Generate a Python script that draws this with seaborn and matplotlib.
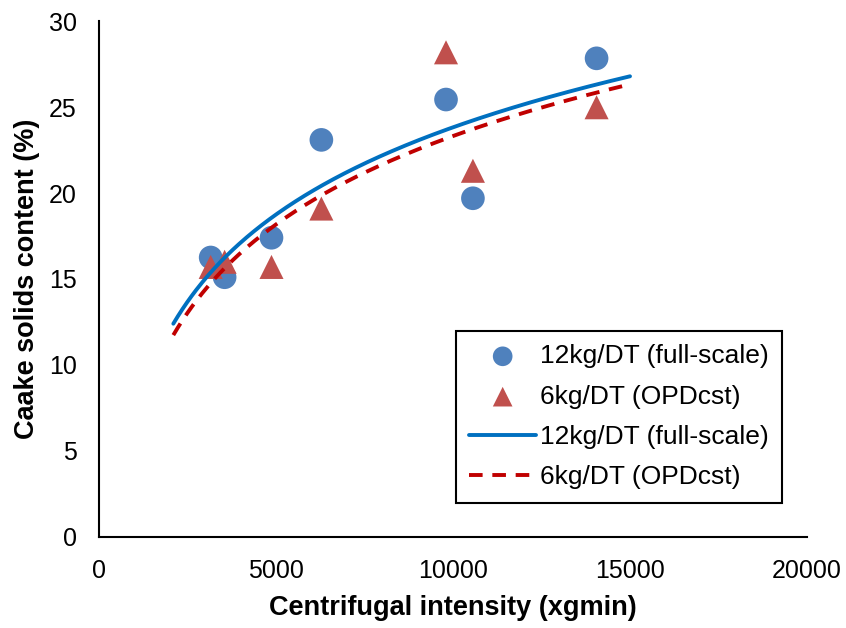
import numpy as np
import pandas as pd
import matplotlib
matplotlib.use("Agg")
import matplotlib.pyplot as plt
import seaborn as sns

# Data
intensity = [3155, 3549, 4873, 6282, 9803, 10563, 14056]
solids_12kg = [16.25, 15.1, 17.4, 23.1, 25.45, 19.7, 27.85]
solids_6kg = [15.7, 16.0, 15.7, 19.1, 28.2, 21.3, 25.0]
label_12 = "12kg/DT (full-scale)"
label_6 = "6kg/DT (OPDcst)"
trend_range = [2100, 15000]
x_ticks = [0, 5000, 10000, 15000, 20000]
y_ticks = [0, 5, 10, 15, 20, 25, 30]

sns.set_style("white")
plt.rcParams['font.family'] = ['Liberation Sans', 'DejaVu Sans']
plt.rcParams['text.color'] = 'black'
plt.rcParams['axes.labelcolor'] = 'black'

fig = plt.figure(figsize=(8.46, 6.28), dpi=100)
ax = fig.add_axes([0.117, 0.1457, 0.8369, 0.8202])

df = pd.DataFrame({"x": intensity, "a": solids_12kg, "b": solids_6kg})

# Logarithmic trendlines (least squares on ln x, like spreadsheet trendlines)
xt = np.linspace(trend_range[0], trend_range[1], 300)
ca = np.polyfit(np.log(df["x"]), df["a"], 1)
cb = np.polyfit(np.log(df["x"]), df["b"], 1)
tdf = pd.DataFrame({"x": xt, "a": np.polyval(ca, np.log(xt)), "b": np.polyval(cb, np.log(xt))})

sns.scatterplot(data=df, x="x", y="a", ax=ax, marker="o", s=290, color="#4F81BD",
                edgecolor="none", label=label_12, zorder=3)
sns.scatterplot(data=df, x="x", y="b", ax=ax, marker="^", s=300, color="#C0504D",
                edgecolor="none", label=label_6, zorder=3)
sns.lineplot(data=tdf, x="x", y="a", ax=ax, color="#0070C0", linewidth=2.8,
             label=label_12, zorder=4)
sns.lineplot(data=tdf, x="x", y="b", ax=ax, color="#C00000", linewidth=2.8,
             dashes=False, label=label_6, zorder=4)
ax.lines[-1].set_linestyle((0, (3.5, 2.5)))

ax.set_xlim(0, 20000)
ax.set_ylim(0, 30)
ax.set_xticks(x_ticks)
ax.set_yticks(y_ticks)
ax.tick_params(axis="both", direction="in", length=6, width=1.5, labelsize=18,
               colors="black", labelcolor="black")
ax.tick_params(axis="x", pad=16)
ax.tick_params(axis="y", pad=16)
for s in ["top", "right"]:
    ax.spines[s].set_visible(False)
for s in ["left", "bottom"]:
    ax.spines[s].set_color("black")
    ax.spines[s].set_linewidth(1.5)

ax.set_xlabel("Centrifugal intensity (xgmin)", fontsize=19.5, fontweight="bold", labelpad=9)
ax.set_ylabel("Caake solids content (%)", fontsize=19.5, fontweight="bold", labelpad=6)

leg = ax.legend(loc="lower right", bbox_to_anchor=(0.965, 0.066), fontsize=19,
                frameon=True, fancybox=False, edgecolor="black", framealpha=1,
                handlelength=2.55, borderpad=0.5, labelspacing=0.62, handletextpad=0.15,
                borderaxespad=0)
leg.get_frame().set_linewidth(1.5)
for h in leg.legend_handles[:2]:
    h.set_sizes([200])

fig.savefig("out.png", dpi=100)
